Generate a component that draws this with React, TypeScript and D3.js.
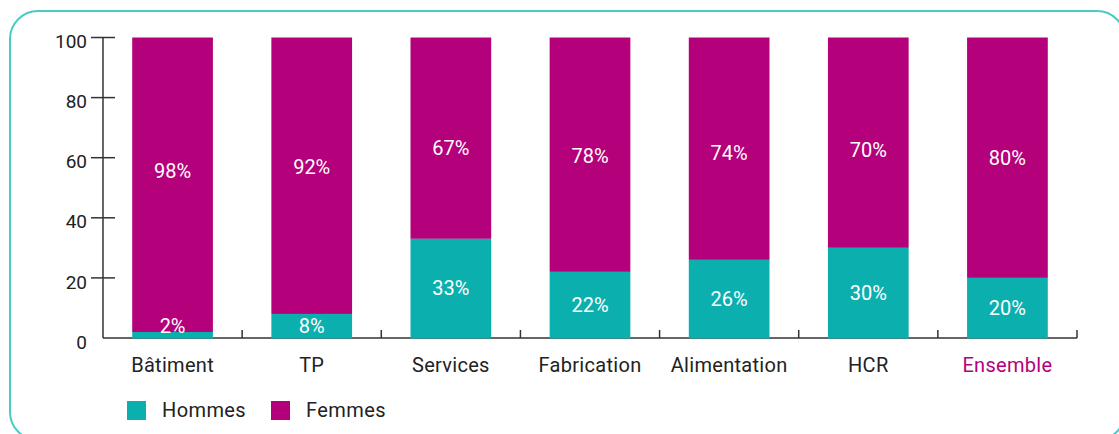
import { useEffect, useRef } from "react";
import * as d3 from "d3";

// data (share of each sector, in %)
const categories = ["Bâtiment", "TP", "Services", "Fabrication", "Alimentation", "HCR", "Ensemble"];
const hommes = [2, 8, 33, 22, 26, 30, 20];
const femmes = [98, 92, 67, 78, 74, 70, 80];
const yTicks = [0, 20, 40, 60, 80, 100];
const seriesNames = ["Hommes", "Femmes"];

const TEAL = "#0BB0AE";
const MAGENTA = "#B5007B";
const FONT = "Roboto, 'DejaVu Sans', sans-serif";

function drawChart(node: SVGSVGElement) {
  const w = 1119;
  const h = 434;
  const margin = { top: 37.5, right: 42, bottom: 96, left: 103 };

  const svg = d3.select(node);
  svg.selectAll("*").remove();
  svg.attr("width", w).attr("height", h);

  svg.append("rect").attr("width", w).attr("height", h).attr("fill", "white");

  // frame (runs off the right and bottom edges)
  svg
    .append("rect")
    .attr("x", 10)
    .attr("y", 11)
    .attr("width", 1115)
    .attr("height", 429)
    .attr("rx", 28)
    .attr("fill", "none")
    .attr("stroke", "#4CCBC5")
    .attr("stroke-width", 2);

  const x = d3
    .scaleBand<string>()
    .domain(categories)
    .range([margin.left, w - margin.right])
    .paddingInner(0.42)
    .paddingOuter(0.21);

  const y = d3
    .scaleLinear()
    .domain([0, 100])
    .range([h - margin.bottom, margin.top]);

  const y0 = y(0);
  const step = x.step();

  // axes
  const axis = svg.append("g").attr("stroke", "#333").attr("stroke-width", 1.5);
  axis
    .append("line")
    .attr("x1", margin.left)
    .attr("x2", margin.left)
    .attr("y1", y(100))
    .attr("y2", y0);
  axis
    .append("line")
    .attr("x1", margin.left)
    .attr("x2", w - margin.right)
    .attr("y1", y0)
    .attr("y2", y0);

  axis
    .selectAll(".yt")
    .data(yTicks.filter((t) => t > 0))
    .join("line")
    .attr("x1", margin.left - 12)
    .attr("x2", margin.left + 12)
    .attr("y1", (d) => y(d))
    .attr("y2", (d) => y(d));

  axis
    .selectAll(".xt")
    .data(categories)
    .join("line")
    .attr("x1", (d) => (x(d) as number) - (step - x.bandwidth()) / 2 + step)
    .attr("x2", (d) => (x(d) as number) - (step - x.bandwidth()) / 2 + step)
    .attr("y1", y0)
    .attr("y2", y0 - 8);

  svg
    .append("g")
    .selectAll("text")
    .data(yTicks)
    .join("text")
    .attr("x", margin.left - 16)
    .attr("y", (d) => y(d) + 4)
    .attr("dy", "0.35em")
    .attr("text-anchor", "end")
    .attr("font-family", FONT)
    .attr("font-size", 19)
    .attr("fill", "#222")
    .text((d) => d);

  // bars
  const bars = svg.append("g");
  bars
    .selectAll(".f")
    .data(categories)
    .join("rect")
    .attr("x", (d) => x(d) as number)
    .attr("width", x.bandwidth())
    .attr("y", (_, i) => y(hommes[i] + femmes[i]))
    .attr("height", (_, i) => y(hommes[i]) - y(hommes[i] + femmes[i]))
    .attr("fill", MAGENTA);
  bars
    .selectAll(".hm")
    .data(categories)
    .join("rect")
    .attr("x", (d) => x(d) as number)
    .attr("width", x.bandwidth())
    .attr("y", (_, i) => y(hommes[i]))
    .attr("height", (_, i) => y0 - y(hommes[i]) + 0.5)
    .attr("fill", TEAL);

  const labels = svg
    .append("g")
    .attr("font-family", FONT)
    .attr("font-size", 20)
    .attr("fill", "white")
    .attr("text-anchor", "middle");

  labels
    .selectAll(".lf")
    .data(categories)
    .join("text")
    .attr("x", (d) => (x(d) as number) + x.bandwidth() / 2)
    .attr("y", (_, i) => {
      const mid = hommes[i] + femmes[i] / 2;
      return y(0.5 * mid + 30);
    })
    .attr("dy", "0.35em")
    .text((_, i) => `${femmes[i]}%`);

  labels
    .selectAll(".lh")
    .data(categories)
    .join("text")
    .attr("x", (d) => (x(d) as number) + x.bandwidth() / 2)
    .attr("y", (_, i) => y(Math.max(hommes[i] / 2, 4)))
    .attr("dy", "0.35em")
    .text((_, i) => `${hommes[i]}%`);

  // category labels
  svg
    .append("g")
    .selectAll("text")
    .data(categories)
    .join("text")
    .attr("x", (d) => (x(d) as number) + x.bandwidth() / 2)
    .attr("y", y0 + 34)
    .attr("text-anchor", "middle")
    .attr("font-family", FONT)
    .attr("font-size", 20)
    .attr("letter-spacing", 0.3)
    .attr("fill", (d) => (d === "Ensemble" ? MAGENTA : "#222"))
    .text((d) => d);

  // legend
  const legend = svg.append("g");
  const legendX = [127, 271];
  const colors = [TEAL, MAGENTA];
  seriesNames.forEach((name, i) => {
    legend
      .append("rect")
      .attr("x", legendX[i])
      .attr("y", 401)
      .attr("width", 19)
      .attr("height", 19)
      .attr("fill", colors[i]);
    legend
      .append("text")
      .attr("x", legendX[i] + 35)
      .attr("y", 417)
      .attr("font-family", FONT)
      .attr("font-size", 20)
      .attr("letter-spacing", 0.4)
      .attr("fill", "#222")
      .text(name);
  });
}

export default function App() {
  const ref = useRef<SVGSVGElement>(null);

  useEffect(() => {
    if (ref.current) drawChart(ref.current);
  }, []);

  return (
    <div>
      <svg ref={ref} style={{ position: "absolute", left: 0, top: 0 }} />
    </div>
  );
}
